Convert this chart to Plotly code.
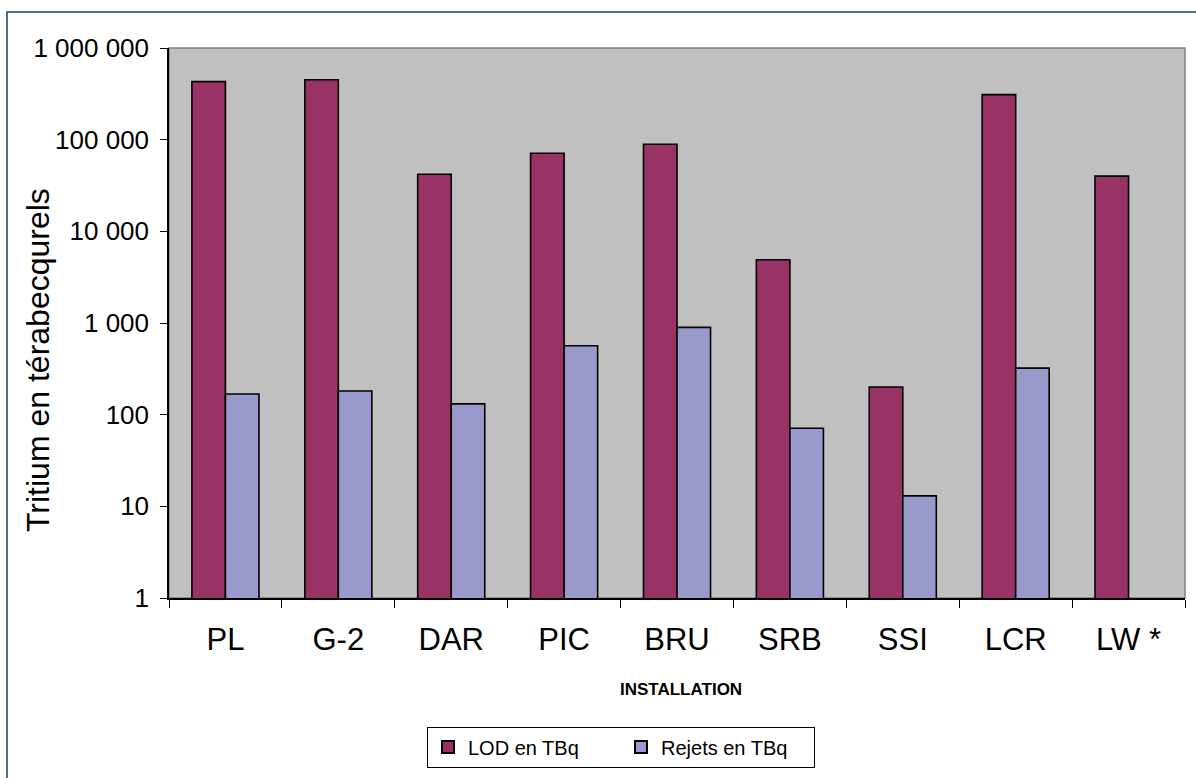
import plotly.graph_objects as go

categories = ["PL", "G-2", "DAR", "PIC", "BRU", "SRB", "SSI", "LCR", "LW *"]
lod_values = [430000, 450000, 42000, 71000, 89000, 4900, 200, 310000, 40000]
rejets_values = [168, 181, 131, 564, 896, 71, 13, 322, None]
y_tickvals = [1, 10, 100, 1000, 10000, 100000, 1000000]
y_ticktext = ["1", "10", "100", "1 000", "10 000", "100 000", "1 000 000"]

FONT = "Liberation Sans, Arial, sans-serif"

W, H = 1196, 778
L, R, T, B = 169, 11, 48, 180
pw, ph = W - L - R, H - T - B


def px_x(x):
    return (x - L) / pw


def px_y(y):
    return (H - B - y) / ph


fig = go.Figure()
fig.add_trace(go.Bar(
    x=categories, y=lod_values, name="LOD en TBq",
    marker=dict(color="#993366", line=dict(color="black", width=1.6)),
))
fig.add_trace(go.Bar(
    x=categories, y=rejets_values, name="Rejets en TBq",
    marker=dict(color="#9999CC", line=dict(color="black", width=1.6)),
))

fig.update_layout(
    width=W, height=H, autosize=False,
    margin=dict(l=L, r=R, t=T, b=B),
    paper_bgcolor="white",
    plot_bgcolor="#C0C0C0",
    barmode="group",
    bargap=0.406,
    bargroupgap=0,
    font=dict(family=FONT, color="black"),
    showlegend=True,
    legend=dict(
        orientation="h",
        x=px_x(621), y=px_y(747), xanchor="center", yanchor="middle",
        bgcolor="white", bordercolor="black", borderwidth=1,
        font=dict(family=FONT, size=20, color="black"),
        itemsizing="constant",
        traceorder="normal",
        entrywidth=148,
        entrywidthmode="pixels",
    ),
)

fig.update_xaxes(
    type="category",
    tickson="boundaries",
    ticks="outside", ticklen=8, tickcolor="black", tickwidth=1,
    showline=True, linecolor="black", linewidth=1.5,
    showgrid=False,
    tickfont=dict(family=FONT, size=31, color="black"),
    ticklabelstandoff=13,
)
fig.update_yaxes(
    type="log", range=[0, 6],
    tickvals=y_tickvals, ticktext=y_ticktext,
    ticks="outside", ticklen=7, tickcolor="black", tickwidth=1,
    showline=True, linecolor="black", linewidth=1.5,
    showgrid=False,
    tickfont=dict(family=FONT, size=26, color="black"),
    ticklabelstandoff=6,
)

# plot-area gray outline
fig.add_shape(type="rect", xref="paper", yref="paper", x0=0, y0=0, x1=1, y1=1,
              line=dict(color="#808080", width=1.5), layer="below")
# outer chart frame
fig.add_shape(type="rect", xref="paper", yref="paper",
              x0=px_x(7), y0=px_y(12), x1=px_x(1230), y1=px_y(820),
              line=dict(color="#203864", width=1.5), layer="above")

fig.add_annotation(
    text="Tritium en térabecqurels", textangle=-90,
    xref="paper", yref="paper", x=px_x(38), y=px_y(360),
    xanchor="center", yanchor="middle", showarrow=False,
    font=dict(family=FONT, size=32, color="black"),
)
fig.add_annotation(
    text="<b>INSTALLATION</b>",
    xref="paper", yref="paper", x=px_x(681), y=px_y(689),
    xanchor="center", yanchor="middle", showarrow=False,
    font=dict(family=FONT, size=17, color="black"),
)

fig.write_html(
    "out.html",
    config={"displayModeBar": False},
    post_script="document.body.style.margin='0';document.body.style.padding='0';",
)
